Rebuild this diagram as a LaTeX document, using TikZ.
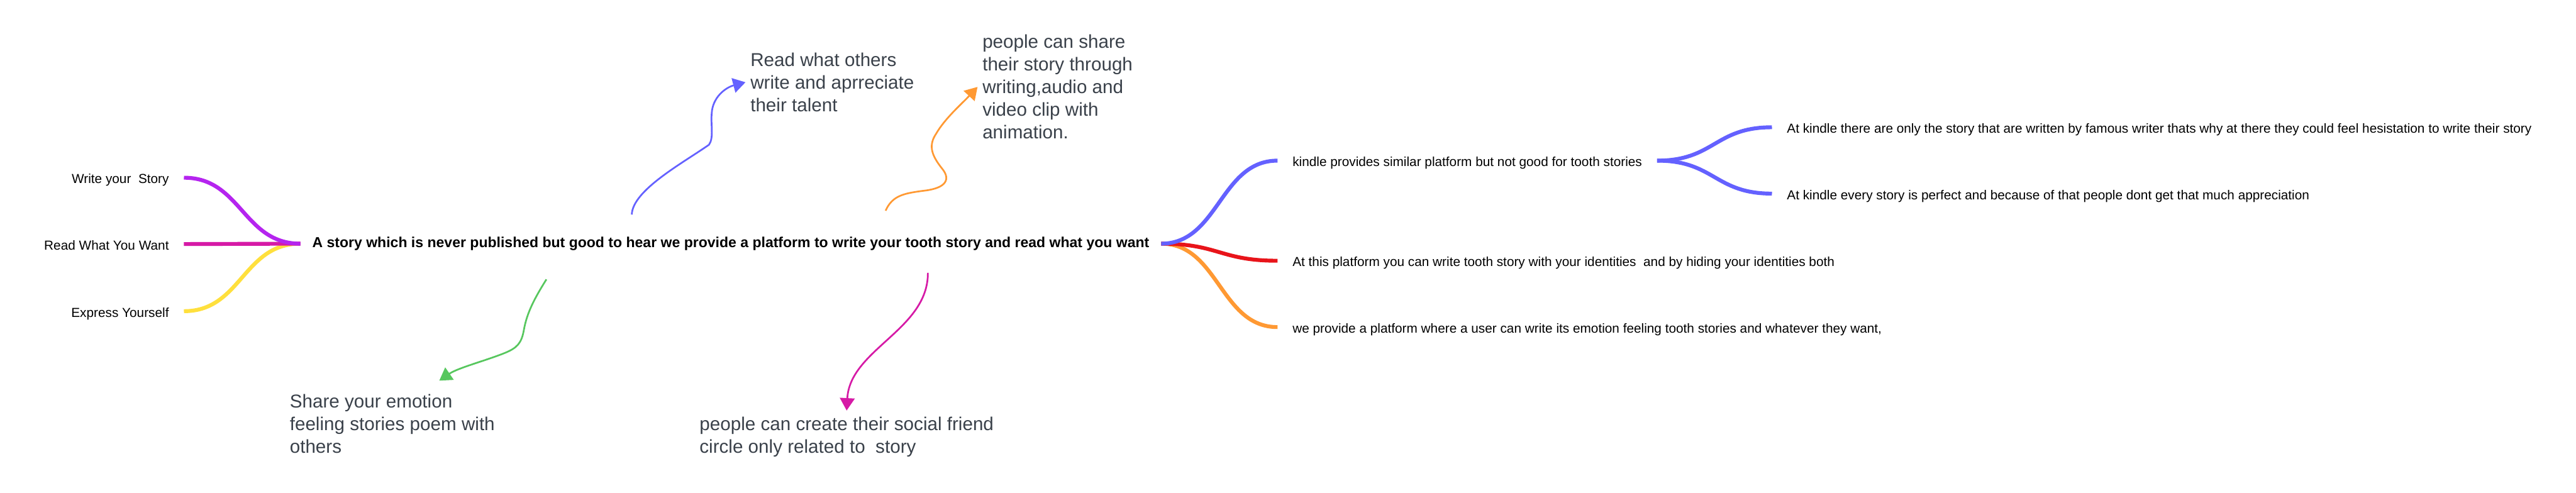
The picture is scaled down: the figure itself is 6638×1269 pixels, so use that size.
\documentclass[tikz,border=0pt]{standalone}
\usepackage{fontspec}
\setmainfont{Liberation Sans}
\usetikzlibrary{arrows.meta}
\definecolor{cpurple}{HTML}{B524EF}
\definecolor{cmagenta}{HTML}{D61AA6}
\definecolor{cyellow}{HTML}{FFE03D}
\definecolor{cblue}{HTML}{6461FF}
\definecolor{cred}{HTML}{E8141A}
\definecolor{corange}{HTML}{FF9933}
\definecolor{cgreen}{HTML}{57C75E}
\definecolor{cgray}{HTML}{3A414A}
\begin{document}
\begin{tikzpicture}[x=0.25pt,y=-0.25pt,
  lab/.style={inner xsep=9.5pt, inner ysep=0pt, text height=0.74em, text depth=0pt, font=\fontsize{8.42pt}{10pt}\selectfont, text=black},
  big/.style={inner sep=3pt, align=left, text=cgray, font=\fontsize{12pt}{14.6pt}\selectfont},
  branch/.style={line width=2.5pt},
  arrowline/.style={line width=1.1pt, -{Triangle[length=8pt,width=9.5pt]}},
  sbend/.style={to path={.. controls +(37pt,0) and +(-37pt,0) .. (\tikztotarget)}}
]
\useasboundingbox (0,0) rectangle (6638,1269);
\fill[white] (0,0) rectangle (6638,1269);

% central node
\node[anchor=west, inner xsep=7.5pt, inner ysep=0pt, font=\bfseries\fontsize{9.33pt}{11pt}\selectfont] (c) at (774,628)
  {A story which is never published but good to hear we provide a platform to write your tooth story and read what you want};

% left labels
\node[lab, anchor=east] (lw) at (474,458) {Write your\ \ Story};
\node[lab, anchor=east] (lr) at (474,629) {Read What You Want};
\node[lab, anchor=east] (le) at (474,802) {Express Yourself};

% right labels
\node[lab, anchor=west] (kp) at (3292,414) {kindle provides similar platform but not good for tooth stories};
\node[lab, anchor=west] (ap) at (3292,672) {At this platform you can write tooth story with your identities\ \ and by hiding your identities both};
\node[lab, anchor=west] (wp) at (3292,843) {we provide a platform where a user can write its emotion feeling tooth stories and whatever they want,};
\node[lab, anchor=west] (kt) at (4566,328) {At kindle there are only the story that are written by famous writer thats why at there they could feel hesistation to write their story};
\node[lab, anchor=west] (ke) at (4566,499) {At kindle every story is perfect and because of that people dont get that much appreciation};

% big grey texts
\node[big, anchor=west] (rwo) at (1921,212) {Read what others\\write and aprreciate\\their talent};
\node[big, anchor=west] (pcs) at (2519,224) {people can share\\their story through\\writing,audio and\\video clip with\\animation.};
\node[big, anchor=north west] (share) at (734,1004) {Share your emotion\\feeling stories poem with\\others};
\node[big, anchor=north west] (pcc) at (1790,1062) {people can create their social friend\\circle only related to\ \ story};

% left branches
\draw[branch, cyellow] (le.east) to[sbend] (c.west);
\draw[branch, cmagenta] (lr.east) -- (c.west);
\draw[branch, cpurple] (lw.east) to[sbend] (c.west);

% right branches
\draw[branch, corange] (c.east) to[sbend] (wp.west);
\draw[branch, cred] (c.east) to[sbend] (ap.west);
\draw[branch, cblue] (c.east) to[sbend] (kp.west);
\draw[branch, cblue] (kp.east) to[sbend] (kt.west);
\draw[branch, cblue] (kp.east) to[sbend] (ke.west);

% arrows
\coordinate (b1) at (1628,553);
\coordinate (o1) at (2282,543);
\coordinate (g1) at (1408,720);
\coordinate (m1) at (2391,703);

\draw[arrowline, cblue] (b1) .. controls (1630,490) and (1760,420) .. (1827,373)
  .. controls (1840,355) and (1831,320) .. (1834,292)
  .. controls (1836,252) and (1868,226) .. (rwo.west);
\draw[arrowline, corange] (o1) .. controls (2300,503) and (2330,498) .. (2385,491)
  .. controls (2438,484) and (2450,462) .. (2428,435)
  .. controls (2400,400) and (2392,375) .. (2412,345)
  .. controls (2435,305) and (2478,268) .. (pcs.west);
\draw[arrowline, cgreen] (g1) .. controls (1378,768) and (1358,805) .. (1350,850)
  .. controls (1344,885) and (1332,897) .. (1300,910)
  .. controls (1250,930) and (1180,948) .. ([xshift=30.25pt,yshift=5.75pt]share.north);
\draw[arrowline, cmagenta] (m1) .. controls (2392,850) and (2190,900) .. ([yshift=1pt]pcc.north);
\end{tikzpicture}
\end{document}
